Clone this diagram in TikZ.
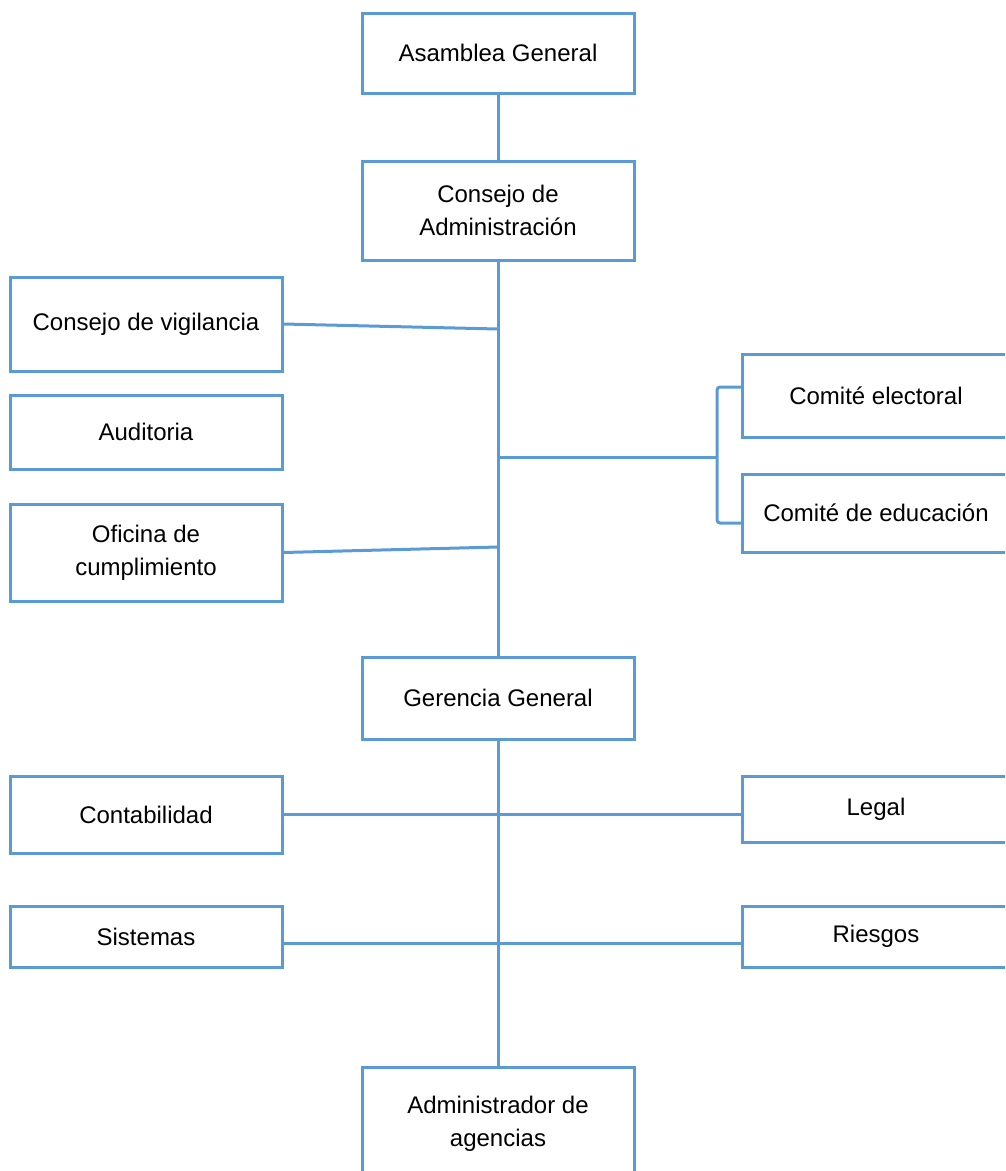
\documentclass[tikz,border=0pt]{standalone}
\usepackage{fontspec}
\setmainfont{Liberation Sans}
\definecolor{orgblue}{HTML}{5B9BD5}
\begin{document}
\begin{tikzpicture}[x=1pt,y=-1pt,
  box/.style={draw=orgblue,line width=3pt,rectangle,inner sep=0pt,align=center,
    font=\fontsize{24}{33}\selectfont},
  link/.style={draw=orgblue,line width=3pt}]
\useasboundingbox (0,0) rectangle (1005,1171);
\clip (0,0) rectangle (1005,1171);
\node[box,minimum width=272pt,minimum height=80pt] (A) at (498,53) {Asamblea General};
\node[box,minimum width=272pt,minimum height=99pt] (CA) at (498,210.5) {Consejo de\\Administración};
\node[box,minimum width=272pt,minimum height=94pt] (CV) at (146,324) {Consejo de vigilancia};
\node[box,minimum width=272pt,minimum height=74pt] (AU) at (146,432) {Auditoria};
\node[box,minimum width=272pt,minimum height=97pt] (OC) at (146,552.5) {Oficina de\\cumplimiento};
\node[box,minimum width=268pt,minimum height=83pt] (CE) at (876,395.5) {Comité electoral};
\node[box,minimum width=268pt,minimum height=78pt] (CED) at (876,513) {Comité de educación};
\node[box,minimum width=272pt,minimum height=82pt] (GG) at (498,698) {Gerencia General};
\node[box,minimum width=272pt,minimum height=77pt] (CO) at (146,814.5) {Contabilidad};
\node[box,minimum width=268pt,minimum height=66pt] (LE) at (876,809) {Legal};
\node[box,minimum width=272pt,minimum height=61pt] (SI) at (146,936.5) {Sistemas};
\node[box,minimum width=268pt,minimum height=61pt] (RI) at (876,936.5) {Riesgos};
\node[box,minimum width=272pt,minimum height=113pt] (AD) at (498,1123.5) {Administrador de\\agencias};
% trunk junctions
\coordinate (jCV) at (498,329);
\coordinate (jOC) at (498,547);
\coordinate (jCM) at (498,457);
\coordinate (bM) at (717,457);
\coordinate (bT) at (717,387);
\coordinate (bB) at (717,523);
\coordinate (sCE) at (742,387);
\coordinate (sCED) at (742,523);
\coordinate (jCO) at (498,814);
\coordinate (jSI) at (498,943);
\draw[link] (A.south) -- (CA.north);
\draw[link] (CA.south) -- (GG.north);
\draw[link] (GG.south) -- (AD.north);
\draw[link] (CV.east) -- (jCV);
\draw[link] (OC.east) -- (jOC);
\draw[link] (jCM) -- (bM);
\draw[link,rounded corners=3pt] (sCE) -- (bT) -- (bB) -- (sCED);
\draw[link] (CO.east |- jCO) -- (LE.west |- jCO);
\draw[link] (SI.east |- jSI) -- (RI.west |- jSI);
\end{tikzpicture}
\end{document}
